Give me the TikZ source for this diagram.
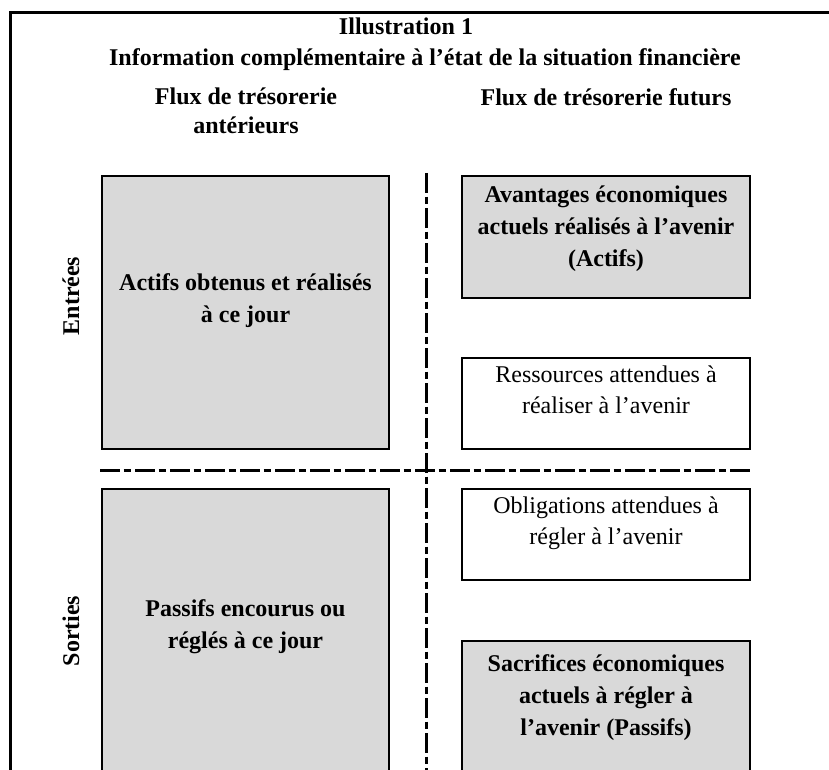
\documentclass[tikz,border=0pt]{standalone}
\usepackage{fontspec}
\setmainfont{Liberation Serif}
\usetikzlibrary{positioning}
\definecolor{boxgray}{RGB}{217,217,217}

\begin{document}
\begin{tikzpicture}[%
      x=1pt,y=-1pt,               % work in pixels of the page, y downwards
      line width=2.5pt,
      font=\fontsize{24}{32}\selectfont\bfseries
      ]
  \tikzset{
    graybox/.style={draw,fill=boxgray,rectangle,align=center,inner sep=0pt,
                    minimum width=288pt,text depth=22pt},
    whitebox/.style={graybox,fill=white,font=\fontsize{24}{31}\selectfont,text depth=28pt},
    sep/.style={line width=3pt,dash pattern=on 20pt off 3.5pt on 7pt off 4.5pt}}
 \useasboundingbox (0,0) rectangle (829,770);
 \clip (0,0) rectangle (829,770);

 % frame of the page
 \draw[line width=3pt] (10,13) rectangle (845,800);

 \node (ill) at (406,26) {Illustration 1};
 \node (info) at (425,60) {Information complémentaire à l’état de la situation financière};
 \node[align=center] (fluxant) at (246,111) {Flux de trésorerie\\[-3pt]antérieurs};
 \node (fluxfut) at (606,97) {Flux de trésorerie futurs};

 \node[rotate=90] (entrees) at (71,296) {Entrées};
 \node[rotate=90] (sorties) at (71,631) {Sorties};

 % left column
 \node[graybox,minimum width=287pt,minimum height=273pt,text depth=29pt] (actifs) at (245.5,312.5)
   {Actifs obtenus et réalisés\\à ce jour};
 \node[graybox,minimum width=287pt,minimum height=292pt] (passifs) at (245.5,635)
   {Passifs encourus ou\\réglés à ce jour};

 % right column
 \node[graybox,minimum height=122pt] (avant) at (606,237)
   {Avantages économiques\\actuels réalisés à l’avenir\\(Actifs)};
 \node[whitebox,minimum height=91pt] (ress) at (606,403.5)
   {Ressources attendues à\\réaliser à l’avenir};
 \node[whitebox,minimum height=91pt] (oblig) at (606,534.5)
   {Obligations attendues à\\régler à l’avenir};
 \node[graybox,minimum height=131pt] (sacr) at (606,706.5)
   {Sacrifices économiques\\actuels à régler à\\l’avenir (Passifs)};

 % separators
 \coordinate (vtop) at (426,173);
 \coordinate (vbot) at (426,775);
 \coordinate (hleft) at (100,470);
 \coordinate (hright) at (752,470);
 \draw[sep] (vtop) -- (vbot);
 \draw[sep] (hleft) -- (hright);
\end{tikzpicture}
\end{document}
